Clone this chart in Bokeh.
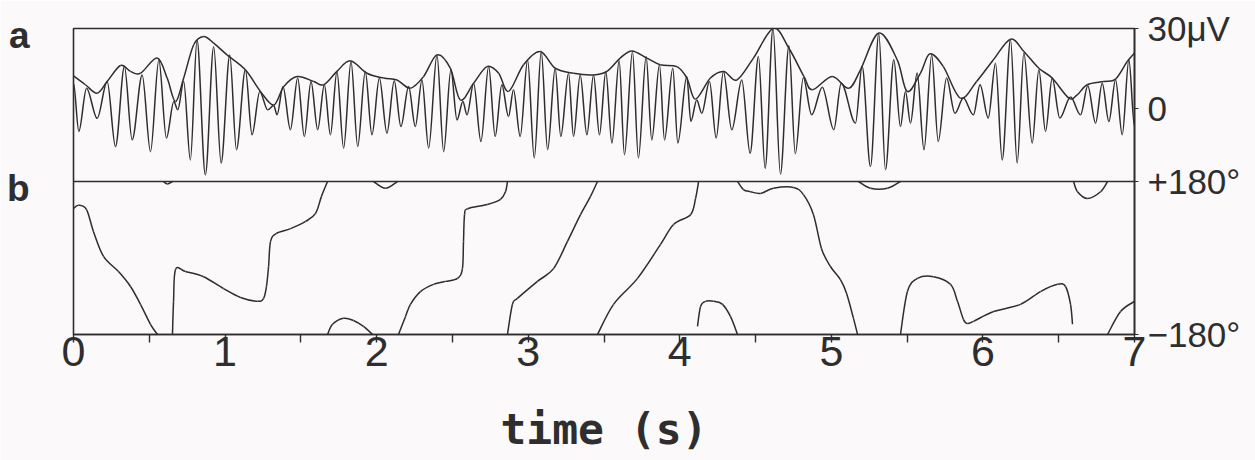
from bokeh.plotting import figure
from bokeh.models import Range1d, FixedTicker, Span, LinearAxis
from bokeh.embed import file_html
from bokeh.resources import INLINE

# ---------------- data ----------------
# panel a: EEG-like signal, turning points (time in s, amplitude in microvolts)
sig_t = [0.0, 0.035, 0.086, 0.156, 0.222, 0.277, 0.336, 0.387, 0.453, 0.508,
         0.563, 0.613, 0.662, 0.688, 0.727, 0.771, 0.815, 0.870, 0.925, 0.974,
         1.031, 1.075, 1.134, 1.178, 1.229, 1.281, 1.321, 1.343, 1.382, 1.431,
         1.479, 1.523, 1.567, 1.611, 1.655, 1.695, 1.738, 1.782, 1.831, 1.875,
         1.925, 1.969, 2.018, 2.068, 2.116, 2.160, 2.211, 2.255, 2.299, 2.343,
         2.398, 2.442, 2.490, 2.530, 2.569, 2.596, 2.640, 2.688, 2.739, 2.782,
         2.826, 2.870, 2.903, 2.947, 2.996, 3.040, 3.086, 3.128, 3.178, 3.215,
         3.266, 3.299, 3.343, 3.387, 3.431, 3.470, 3.512, 3.552, 3.600, 3.635,
         3.688, 3.727, 3.778, 3.815, 3.866, 3.899, 3.954, 3.987, 4.046, 4.073,
         4.112, 4.145, 4.196, 4.240, 4.288, 4.343, 4.409, 4.464, 4.519, 4.563,
         4.615, 4.664, 4.720, 4.762, 4.815, 4.870, 4.940, 5.016, 5.065, 5.159,
         5.203, 5.258, 5.313, 5.357, 5.412, 5.456, 5.489, 5.522, 5.566, 5.611,
         5.662, 5.705, 5.760, 5.815, 5.871, 5.937, 5.981, 6.035, 6.083, 6.127,
         6.182, 6.226, 6.270, 6.325, 6.369, 6.413, 6.457, 6.507, 6.578, 6.644,
         6.692, 6.743, 6.787, 6.831, 6.875, 6.919, 6.963, 7.0]
sig_uv = [9.5, -8.6, 7.6, -3.7, 10.1, -14.3, 15.7, -11.8, 12.6, -16.2,
          18.2, -11.1, 2.6, -0.5, 10.1, -19.3, 25.7, -24.9, 23.2, -20.5,
          20.1, -15.5, 14.5, -9.9, 6.4, -0.5, 1.1, -2.4, 8.2, -8.0,
          11.4, -10.5, 10.1, -8.0, 8.9, -9.9, 13.9, -14.9, 17.6, -14.3,
          13.9, -9.9, 11.4, -9.3, 10.4, -6.8, 8.2, -6.8, 10.7, -14.9,
          20.1, -16.2, 14.5, -4.3, 2.6, -2.4, 9.5, -12.4, 15.7, -10.5,
          8.9, -3.0, 7.0, -10.5, 18.2, -18.6, 21.4, -15.5, 15.1, -10.5,
          13.2, -10.5, 12.6, -9.9, 12.6, -9.9, 13.9, -13.0, 17.9, -17.4,
          21.4, -18.6, 19.5, -11.8, 16.4, -11.8, 15.1, -13.0, 12.0, -4.9,
          3.2, -1.8, 10.1, -11.1, 13.9, -8.0, 10.7, -16.8, 19.5, -22.4,
          30.0, -24.6, 23.5, -17.0, 11.5, -2.4, 8.0, -8.0, 9.5, -5.5,
          15.8, -21.8, 28.0, -23.0, 18.3, -6.8, 6.4, -5.5, 13.3, -15.5,
          20.1, -12.4, 11.4, -1.8, 3.9, -2.4, 8.9, -3.6, 17.0, -19.3,
          25.8, -20.5, 20.8, -13.0, 14.5, -8.6, 11.4, -3.6, 4.3, -2.4,
          8.5, -5.5, 9.5, -4.9, 10.8, -9.9, 18.3, -6.8]

# panel a: envelope curve
env_t = [0.0, 0.079, 0.156, 0.222, 0.310, 0.376, 0.442, 0.552, 0.618, 0.673,
         0.727, 0.793, 0.859, 0.925, 1.013, 1.134, 1.233, 1.321, 1.387, 1.475,
         1.585, 1.651, 1.738, 1.826, 1.936, 2.046, 2.134, 2.222, 2.310, 2.398,
         2.486, 2.552, 2.640, 2.728, 2.805, 2.870, 2.969, 3.079, 3.178, 3.299,
         3.431, 3.519, 3.607, 3.684, 3.783, 3.871, 3.981, 4.047, 4.103, 4.202,
         4.290, 4.376, 4.486, 4.618, 4.720, 4.819, 4.874, 5.005, 5.115, 5.192,
         5.313, 5.434, 5.500, 5.588, 5.650, 5.739, 5.851, 5.958, 6.068, 6.182,
         6.270, 6.369, 6.457, 6.567, 6.622, 6.688, 6.798, 6.875, 6.952, 7.0]
env_uv = [12.2, 8.9, 5.7, 10.1, 16.1, 13.9, 13.2, 18.9, 11.4, 2.6,
          11.4, 23.9, 27.0, 24.5, 20.1, 14.5, 6.4, 1.3, 8.2, 12.0,
          10.1, 8.9, 13.9, 17.9, 13.2, 11.4, 10.7, 7.6, 12.0, 20.1,
          15.1, 3.2, 9.5, 15.7, 13.2, 6.4, 16.4, 21.4, 15.1, 13.2,
          12.6, 13.9, 18.9, 21.6, 18.9, 16.4, 15.7, 11.4, 3.5, 11.4,
          13.9, 10.7, 18.9, 30.1, 22.6, 12.0, 7.0, 12.0, 7.6, 14.5,
          28.3, 18.3, 6.4, 13.3, 20.5, 15.7, 3.9, 10.1, 18.2, 26.0,
          21.4, 15.1, 11.4, 3.9, 5.1, 8.9, 10.1, 11.0, 17.6, 20.8]

# panel b: wrapped phase (time in s, degrees)
phase_t = [0.0, 0.033, 0.086, 0.132, 0.198, 0.297, 0.376, 0.442, 0.508, 0.554,
           0.594, 0.620, 0.653,
           0.653, 0.660, 0.673, 0.739, 0.858, 0.990, 1.102, 1.214, 1.254, 1.273,
           1.287, 1.300, 1.339, 1.432, 1.531, 1.597, 1.636, 1.676,
           1.676, 1.709, 1.781, 1.847, 1.913, 1.973,
           1.979, 2.058, 2.138,
           2.144, 2.190, 2.223, 2.289, 2.375, 2.454, 2.534, 2.566, 2.573, 2.580,
           2.600, 2.731, 2.817, 2.850, 2.863,
           2.863, 2.896, 2.929, 3.061, 3.167, 3.259, 3.345, 3.411, 3.457,
           3.457, 3.563, 3.721, 3.873, 3.959, 4.071, 4.104, 4.124,
           4.117, 4.137, 4.170, 4.223, 4.282, 4.335, 4.381,
           4.381, 4.420, 4.467, 4.533, 4.618, 4.750, 4.816, 4.882, 4.935, 4.994,
           5.060, 5.100, 5.146, 5.173,
           5.179, 5.258, 5.370, 5.456,
           5.456, 5.502, 5.568, 5.674, 5.786, 5.832, 5.872, 5.898, 5.938, 6.070,
           6.248, 6.380, 6.492, 6.545, 6.578, 6.591,
           6.598, 6.624, 6.690, 6.776, 6.822,
           6.822, 6.908, 7.0]
phase_deg = [116, 124, 114, 62, 4, -32, -67, -109, -156, -180,
             180, 174, 180,
             -180, -102, -27, -32, -44, -72, -93, -102, -95, -67,
             -20, 39, 58, 69, 86, 105, 145, 180,
             -180, -156, -142, -147, -161, -180,
             180, 164, 180,
             -180, -138, -109, -79, -62, -55, -48, -25, 39, 102,
             116, 126, 138, 156, 180,
             -180, -109, -95, -55, -25, 39, 102, 145, 180,
             -180, -109, -48, 32, 79, 102, 140, 180,
             -161, -114, -102, -102, -109, -138, -180,
             180, 161, 156, 152, 164, 166, 149, 102, 22, -20,
             -51, -83, -142, -180,
             180, 164, 164, 180,
             -180, -79, -48, -44, -62, -102, -145, -154, -149, -126,
             -109, -79, -62, -67, -109, -156,
             180, 156, 140, 156, 180,
             -180, -126, -102]

x_ticks = [0, 1, 2, 3, 4, 5, 6, 7]
x_minor = [0.5, 1.5, 2.5, 3.5, 4.5, 5.5, 6.5]
panel_letters = ["a", "b"]
UV_TOP, UV_PANEL_BOTTOM = 30.0, -27.4      # microvolt limits of panel a
PH_MIN, PH_MAX = -180.0, 180.0             # degree limits of panel b

# ---------------- styling / layout ----------------
INK = "#2e2e2e"
BG = "#fbf9fa"
LW = 1.5
PAGE_W, PAGE_H = 1255, 460
FRAME_W, FRAME_H = 1061, 306
BORDER_L, TOP = 73, 28
LETTER_POS = [524.0, 164.0]      # where the panel letters sit, in the shared vertical units

uv_span = UV_TOP - UV_PANEL_BOTTOM
ph_span = PH_MAX - PH_MIN
disp_range = Range1d(PH_MIN, PH_MAX + ph_span)            # panel b below, panel a above
uv_range = Range1d(UV_PANEL_BOTTOM - uv_span, UV_TOP)     # same pixels, microvolt units


def uv_to_disp(v):
    return PH_MAX + (v - UV_PANEL_BOTTOM) / uv_span * ph_span


def wave_curves(xs, ys, k=0.33):
    """Cubic pieces between successive turning points, flat at each turning point."""
    out = dict(x0=[], y0=[], x1=[], y1=[], cx0=[], cy0=[], cx1=[], cy1=[])
    for i in range(len(xs) - 1):
        d = xs[i + 1] - xs[i]
        out["x0"].append(xs[i]); out["y0"].append(ys[i])
        out["x1"].append(xs[i + 1]); out["y1"].append(ys[i + 1])
        out["cx0"].append(xs[i] + k * d); out["cy0"].append(ys[i])
        out["cx1"].append(xs[i + 1] - k * d); out["cy1"].append(ys[i + 1])
    return out


def smooth_curves(xs, ys):
    """Catmull-Rom style cubic pieces through the given points."""
    out = dict(x0=[], y0=[], x1=[], y1=[], cx0=[], cy0=[], cx1=[], cy1=[])
    n = len(xs)
    for i in range(n - 1):
        a = max(i - 1, 0)
        b = min(i + 2, n - 1)
        out["x0"].append(xs[i]); out["y0"].append(ys[i])
        out["x1"].append(xs[i + 1]); out["y1"].append(ys[i + 1])
        out["cx0"].append(xs[i] + (xs[i + 1] - xs[a]) / 6)
        out["cy0"].append(ys[i] + (ys[i + 1] - ys[a]) / 6)
        out["cx1"].append(xs[i + 1] - (xs[b] - xs[i]) / 6)
        out["cy1"].append(ys[i + 1] - (ys[b] - ys[i]) / 6)
    return out


# split the wrapped phase trace at the +-180 jumps
ph_xs, ph_ys = [[phase_t[0]]], [[phase_deg[0]]]
for i in range(1, len(phase_t)):
    if abs(phase_deg[i] - phase_deg[i - 1]) > 180:
        ph_xs.append([])
        ph_ys.append([])
    ph_xs[-1].append(phase_t[i])
    ph_ys[-1].append(phase_deg[i])
phase_pieces = dict(x0=[], y0=[], x1=[], y1=[], cx0=[], cy0=[], cx1=[], cy1=[])
for xs, ys in zip(ph_xs, ph_ys):
    seg = smooth_curves(xs, ys)
    for key in phase_pieces:
        phase_pieces[key] += seg[key]

p = figure(frame_width=FRAME_W, frame_height=FRAME_H,
           x_range=Range1d(x_ticks[0], x_ticks[-1]), y_range=disp_range,
           y_axis_location="right",
           min_border_left=BORDER_L, min_border_right=PAGE_W - BORDER_L - FRAME_W,
           min_border_top=TOP, min_border_bottom=PAGE_H - TOP - FRAME_H,
           output_backend="svg", toolbar_location=None,
           background_fill_color=BG, border_fill_color=BG)
p.extra_y_ranges = {"uv": uv_range}
p.grid.visible = False
p.outline_line_color = INK
p.outline_line_width = 1.6

# x axis
xa = p.xaxis[0]
xa.ticker = FixedTicker(ticks=x_ticks, minor_ticks=x_minor)
xa.axis_line_color = INK
xa.axis_line_width = 1.6
xa.major_tick_line_color = INK
xa.minor_tick_line_color = INK
xa.major_tick_line_width = 1.4
xa.minor_tick_line_width = 1.4
xa.major_tick_in = 0
xa.major_tick_out = 8
xa.minor_tick_in = 0
xa.minor_tick_out = 8
xa.major_label_text_font = "Liberation Sans"
xa.major_label_text_font_size = "43px"
xa.major_label_text_color = INK
xa.major_label_standoff = -6
xa.axis_label = "time (s)"
xa.axis_label_text_font = "DejaVu Sans Mono"
xa.axis_label_text_font_style = "bold"
xa.axis_label_text_font_size = "43px"
xa.axis_label_text_color = INK
xa.axis_label_standoff = 35

# right axis: microvolt and degree marks
ya = p.yaxis[0]
uv_ticks = [uv_to_disp(UV_TOP), uv_to_disp(0.0)]
ya.ticker = FixedTicker(ticks=[PH_MIN, PH_MAX] + uv_ticks, minor_ticks=[])
ya.major_label_overrides = {uv_ticks[0]: "30\u03bcV", uv_ticks[1]: "0",
                            PH_MAX: "+180\u00b0", PH_MIN: "\u2212180\u00b0"}
ya.axis_line_color = INK
ya.axis_line_width = 1.6
ya.major_tick_line_color = INK
ya.major_tick_in = 0
ya.major_tick_out = 4
ya.major_label_standoff = 9
ya.major_label_text_font = "Liberation Sans"
ya.major_label_text_font_size = "35px"
ya.major_label_text_color = INK

# left axis used only to carry the panel letters
la = LinearAxis(ticker=FixedTicker(ticks=LETTER_POS, minor_ticks=[]),
                major_label_overrides=dict(zip(LETTER_POS, panel_letters)))
la.axis_line_color = None
la.major_tick_line_color = None
la.minor_tick_line_color = None
la.major_label_standoff = 38
la.major_label_text_font = "Liberation Sans"
la.major_label_text_font_style = "bold"
la.major_label_text_font_size = "37px"
la.major_label_text_color = INK
p.add_layout(la, "left")

# separator between panels
p.add_layout(Span(location=PH_MAX, dimension="width", line_color=INK, line_width=1.6))

# panel a
p.bezier(**smooth_curves(env_t, env_uv), y_range_name="uv", line_color=INK, line_width=LW)
p.bezier(**wave_curves(sig_t, sig_uv), y_range_name="uv", line_color=INK, line_width=LW)

# panel b
p.bezier(**phase_pieces, line_color=INK, line_width=LW)

open("out.html", "w").write(file_html(p, INLINE))
